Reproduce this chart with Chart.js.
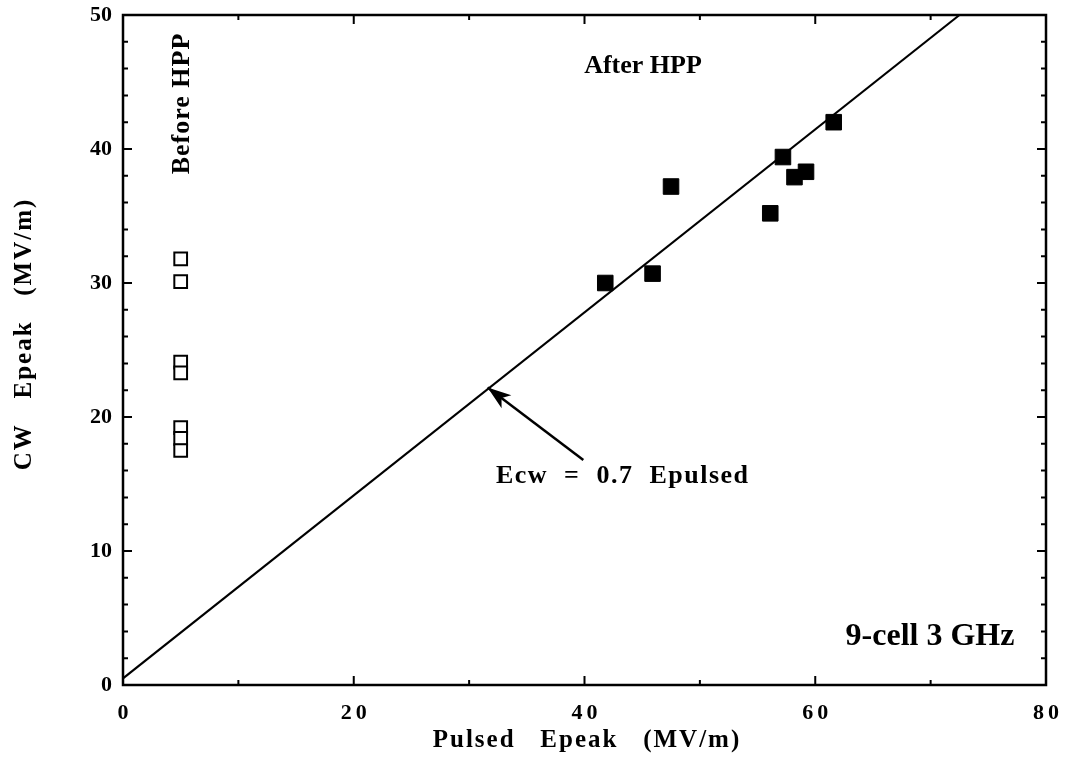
<!DOCTYPE html>
<html>
<head>
<meta charset="utf-8">
<style>
  html, body { margin: 0; padding: 0; background: #fff; }
  #wrap { width: 1068px; height: 757px; position: relative; }
</style>
<script src="https://cdn.jsdelivr.net/npm/chart.js@4.4.1/dist/chart.umd.min.js"></script>
</head>
<body>
<div id="wrap"><canvas id="c" width="1068" height="757"></canvas></div>
<script>
// ---- data ----
const beforeX = [5, 5, 5, 5, 5, 5, 5];
const beforeY = [31.8, 30.1, 24.1, 23.3, 19.2, 18.4, 17.5];
const afterX = [41.8, 45.9, 47.5, 56.1, 57.2, 58.2, 59.2, 61.6];
const afterY = [30.0, 30.7, 37.2, 35.2, 39.4, 37.9, 38.3, 42.0];
const fitX = [0, 72.5];
const fitY = [0.5, 50];
const xTicks = [0, 20, 40, 60, 80];
const yTicks = [0, 10, 20, 30, 40, 50];
const xTitle = 'Pulsed   Epeak   (MV/m)';
const yTitle = 'CW   Epeak   (MV/m)';
const labelBefore = 'Before HPP';
const labelAfter = 'After HPP';
const labelFit = 'Ecw  =  0.7  Epulsed';
const labelCav = '9-cell 3 GHz';
const arrowTail = { x: 39.9, y: 16.8 };
const arrowTip = { x: 31.6, y: 22.2 };

const FONT = '"Liberation Serif", "DejaVu Serif", "Times New Roman", serif';
const pts = (xs, ys) => xs.map((x, i) => ({ x, y: ys[i] }));

const decor = {
  id: 'decor',
  afterLayout(chart) {
    const s = chart.scales.x;
    if (!s._spaced) {
      const orig = s.drawLabels.bind(s);
      s.drawLabels = function (ca) {
        const ctx = chart.ctx;
        ctx.save();
        if ('letterSpacing' in ctx) ctx.letterSpacing = '4px';
        ctx.translate(2, 0);
        orig(ca);
        ctx.restore();
      };
      s._spaced = true;
    }
  },
  afterDraw(chart) {
    const ctx = chart.ctx;
    const a = chart.chartArea;
    const xs = chart.scales.x, ys = chart.scales.y;
    ctx.save();
    ctx.strokeStyle = '#000';
    ctx.fillStyle = '#000';
    // frame
    ctx.lineWidth = 2.5;
    ctx.strokeRect(a.left, a.top, a.right - a.left, a.bottom - a.top);
    // ticks
    ctx.lineWidth = 2;
    ctx.beginPath();
    for (let v = 0; v <= 80; v += 10) {
      const px = xs.getPixelForValue(v);
      const len = v % 20 === 0 ? 9 : 5;
      ctx.moveTo(px, a.bottom); ctx.lineTo(px, a.bottom - len);
      ctx.moveTo(px, a.top); ctx.lineTo(px, a.top + len);
    }
    for (let v = 0; v <= 50; v += 2) {
      const py = ys.getPixelForValue(v);
      const len = v % 10 === 0 ? 9 : 5;
      ctx.moveTo(a.left, py); ctx.lineTo(a.left + len, py);
      ctx.moveTo(a.right, py); ctx.lineTo(a.right - len, py);
    }
    ctx.stroke();

    // arrow
    const tx = xs.getPixelForValue(arrowTip.x), ty = ys.getPixelForValue(arrowTip.y);
    const sx = xs.getPixelForValue(arrowTail.x), sy = ys.getPixelForValue(arrowTail.y);
    ctx.lineWidth = 2.5;
    ctx.beginPath(); ctx.moveTo(sx, sy); ctx.lineTo(tx, ty); ctx.stroke();
    const ang = Math.atan2(ty - sy, tx - sx);
    const hl = 25, hw = 0.33;
    ctx.beginPath();
    ctx.moveTo(tx, ty);
    ctx.lineTo(tx - hl * Math.cos(ang - hw), ty - hl * Math.sin(ang - hw));
    ctx.lineTo(tx - hl * 0.7 * Math.cos(ang), ty - hl * 0.7 * Math.sin(ang));
    ctx.lineTo(tx - hl * Math.cos(ang + hw), ty - hl * Math.sin(ang + hw));
    ctx.closePath(); ctx.fill();

    // texts
    ctx.textBaseline = 'middle';
    ctx.textAlign = 'center';
    const txt = (s, x, y, size, sp, rot) => {
      ctx.save();
      ctx.font = 'bold ' + size + 'px ' + FONT;
      if ('letterSpacing' in ctx) ctx.letterSpacing = sp + 'px';
      ctx.translate(x, y);
      if (rot) ctx.rotate(rot);
      ctx.fillText(s, sp / 2, 0);
      ctx.restore();
    };
    txt(labelAfter, 643, 66, 26, 0, 0);
    txt(labelBefore, 182, 104, 26, 1, -Math.PI / 2);
    txt(labelFit, 622, 476, 26, 1.5, 0);
    txt(labelCav, 930, 637, 32, 0, 0);
    txt(xTitle, 586, 741, 25, 2, 0);
    txt(yTitle, 25, 335, 25, 2, -Math.PI / 2);
    ctx.restore();
  }
};

new Chart(document.getElementById('c'), {
  type: 'scatter',
  data: {
    datasets: [
      {
        label: 'fit',
        data: pts(fitX, fitY),
        showLine: true,
        borderColor: '#000',
        borderWidth: 2.2,
        pointRadius: 0,
        fill: false,
        order: 3
      },
      {
        label: 'before',
        data: pts(beforeX, beforeY),
        pointStyle: 'rect',
        pointRadius: 9,
        borderWidth: 2,
        borderColor: '#000',
        backgroundColor: '#fff',
        order: 1
      },
      {
        label: 'after',
        data: pts(afterX, afterY),
        pointStyle: 'rect',
        pointRadius: 11,
        borderWidth: 1,
        borderColor: '#000',
        backgroundColor: '#000',
        order: 2
      }
    ]
  },
  options: {
    responsive: false,
    animation: false,
    events: [],
    clip: false,
    layout: { padding: { top: 15, right: 22, left: 0, bottom: 0 } },
    plugins: { legend: { display: false }, tooltip: { enabled: false } },
    scales: {
      x: {
        type: 'linear', min: 0, max: 80,
        afterBuildTicks: s => { s.ticks = xTicks.map(v => ({ value: v })); },
        afterFit: s => { s.height = 72; s.paddingLeft = 0; s.paddingRight = 0; },
        grid: { display: false, drawTicks: false },
        border: { display: false },
        ticks: { color: '#000', padding: 15, font: { family: FONT, size: 22, weight: 'bold' } }
      },
      y: {
        type: 'linear', min: 0, max: 50,
        afterBuildTicks: s => { s.ticks = yTicks.map(v => ({ value: v })); },
        afterFit: s => { s.width = 123; s.paddingTop = 0; s.paddingBottom = 0; },
        grid: { display: false, drawTicks: false },
        border: { display: false },
        ticks: { color: '#000', padding: 11, font: { family: FONT, size: 22, weight: 'bold' } }
      }
    }
  },
  plugins: [decor]
});
</script>
</body>
</html>
